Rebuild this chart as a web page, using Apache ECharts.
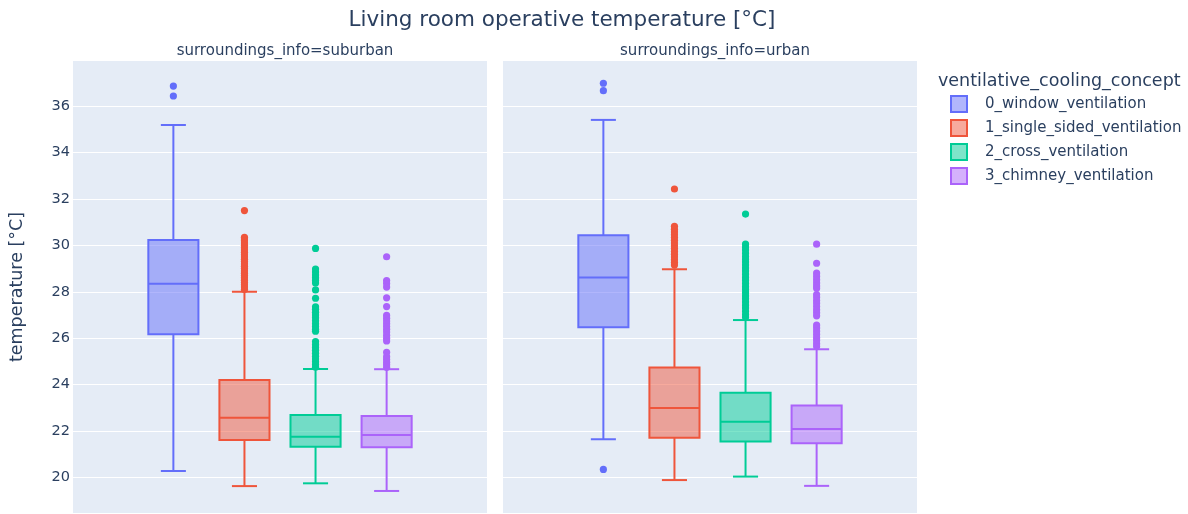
<!DOCTYPE html>
<html>
<head>
<meta charset="utf-8">
<script src="https://cdn.jsdelivr.net/npm/echarts@6/dist/echarts.min.js"></script>
<style>
  html, body { margin: 0; padding: 0; background: #fff; }
  #chart { width: 1188px; height: 514px; }
</style>
</head>
<body>
<div id="chart"></div>
<script>
// legend / colour order
const concepts = ['0_window_ventilation', '1_single_sided_ventilation', '2_cross_ventilation', '3_chimney_ventilation']
const colors = ['#636efa', '#ef553b', '#00cc96', '#ab63fa']
const fills = ['rgba(99,110,250,0.5)', 'rgba(239,85,59,0.5)', 'rgba(0,204,150,0.5)', 'rgba(171,99,250,0.5)']
const panels = ['surroundings_info=suburban', 'surroundings_info=urban']
const yTicks = [20, 22, 24, 26, 28, 30, 32, 34, 36]

// [lower whisker, q1, median, q3, upper whisker]
const suburbanBox = [
  [20.27, 26.17, 28.34, 30.23, 35.19],
  [19.62, 21.61, 22.57, 24.20, 28.00],
  [19.74, 21.32, 21.75, 22.69, 24.67],
  [19.41, 21.29, 21.82, 22.64, 24.66]
]
const urbanBox = [
  [21.64, 26.47, 28.62, 30.44, 35.41],
  [19.88, 21.71, 22.99, 24.73, 28.97],
  [20.03, 21.54, 22.40, 23.65, 26.78],
  [19.63, 21.47, 22.08, 23.09, 25.52]
]

const suburbanOutliers = [
  [36.87, 36.44],
  [31.50, 30.35, 30.28, 30.2, 30.1, 30.0, 29.9, 29.8, 29.7, 29.6, 29.5, 29.4, 29.3, 29.2, 29.1, 29.0,
    28.9, 28.8, 28.7, 28.6, 28.5, 28.4, 28.3, 28.2, 28.1],
  [29.87, 28.98, 28.85, 28.72, 28.6, 28.48, 28.38, 28.08, 27.72, 27.35, 27.25, 27.12, 27.0, 26.88,
    26.75, 26.62, 26.5, 26.38, 26.3, 25.85, 25.72, 25.6, 25.48, 25.35, 25.22, 25.1, 24.98, 24.86, 24.75],
  [29.51, 28.48, 28.36, 28.2, 27.74, 27.36, 26.98, 26.86, 26.74, 26.62, 26.5, 26.38, 26.26, 26.12,
    26.0, 25.88, 25.39, 25.2, 25.08, 24.96, 24.85, 24.74]
]
const urbanOutliers = [
  [36.99, 36.67, 20.34],
  [32.43, 30.82, 30.7, 30.58, 30.46, 30.34, 30.22, 30.1, 29.98, 29.86, 29.74, 29.62, 29.5, 29.38,
    29.26, 29.15],
  [31.35, 30.05, 29.92, 29.8, 29.66, 29.52, 29.4, 29.28, 29.15, 29.02, 28.9, 28.76, 28.62, 28.5,
    28.36, 28.22, 28.1, 27.96, 27.82, 27.7, 27.56, 27.42, 27.3, 27.16, 27.02, 26.9],
  [30.05, 29.23, 28.8, 28.66, 28.52, 28.38, 28.25, 28.15, 27.88, 27.76, 27.62, 27.5, 27.36, 27.22,
    27.1, 26.96, 26.56, 26.44, 26.3, 26.16, 26.02, 25.9, 25.76, 25.64]
]

const boxData = [suburbanBox, urbanBox]
const outlierData = [suburbanOutliers, urbanOutliers]

const TXT = '#2a3f5f'
const FONT = 'DejaVu Sans'
const SLOT = 0.1717   // share of the band between neighbouring boxes
const BOXW = 0.121    // box width as share of the band

// centre x of box idx inside the category band
const boxCenter = (api, idx) => {
  const band = api.size([1, 0])[0]
  return { cx: api.coord([0, 0])[0] + (idx - 1.5) * band * SLOT, half: band * BOXW / 2 }
}

const boxRenderer = (idx) => (params, api) => {
  const { cx, half } = boxCenter(api, idx)
  const y = (k) => api.coord([0, api.value(k)])[1]
  const lo = y(1), q1 = y(2), med = y(3), q3 = y(4), hi = y(5)
  const cap = half / 2
  const line = { stroke: colors[idx], lineWidth: 2 }
  return {
    type: 'group',
    children: [
      { type: 'rect', shape: { x: cx - half, y: q3, width: half * 2, height: q1 - q3 },
        style: { fill: fills[idx], stroke: colors[idx], lineWidth: 2 } },
      { type: 'line', shape: { x1: cx - half, y1: med, x2: cx + half, y2: med }, style: line },
      { type: 'line', shape: { x1: cx, y1: q3, x2: cx, y2: hi }, style: line },
      { type: 'line', shape: { x1: cx, y1: q1, x2: cx, y2: lo }, style: line },
      { type: 'line', shape: { x1: cx - cap, y1: hi, x2: cx + cap, y2: hi }, style: line },
      { type: 'line', shape: { x1: cx - cap, y1: lo, x2: cx + cap, y2: lo }, style: line }
    ]
  }
}

const pointRenderer = (idx) => (params, api) => {
  const { cx } = boxCenter(api, idx)
  return {
    type: 'circle',
    shape: { cx: cx, cy: api.coord([0, api.value(1)])[1], r: 3.6 },
    style: { fill: colors[idx] }
  }
}

const grids = [
  { left: 73, top: 61, width: 414, height: 452 },
  { left: 503, top: 61, width: 414, height: 452 }
].map((g) => ({ ...g, show: true, backgroundColor: '#E5ECF6', borderWidth: 0 }))

const xAxes = [0, 1].map((i) => ({
  type: 'category', gridIndex: i, data: [''],
  axisLine: { show: false }, axisTick: { show: false }, axisLabel: { show: false }, splitLine: { show: false }
}))

const yAxes = [0, 1].map((i) => ({
  type: 'value', gridIndex: i, min: 18.46, max: 37.95,
  name: i === 0 ? 'temperature [°C]' : '',
  nameLocation: 'middle', nameGap: 47,
  nameTextStyle: { color: TXT, fontSize: 17.5, fontFamily: FONT },
  axisLine: { show: false },
  axisTick: { show: false, customValues: yTicks },
  axisLabel: { show: i === 0, customValues: yTicks, color: TXT, fontSize: 14.5, fontFamily: FONT, margin: 3 },
  splitLine: { show: true, lineStyle: { color: '#fff', width: 1 } }
}))

const series = []
panels.forEach((p, pi) => {
  concepts.forEach((name, ci) => {
    series.push({
      name: name, type: 'custom', xAxisIndex: pi, yAxisIndex: pi,
      renderItem: boxRenderer(ci),
      encode: { x: 0, y: [1, 2, 3, 4, 5] },
      data: [[0, ...boxData[pi][ci]]]
    })
    series.push({
      name: name, type: 'custom', xAxisIndex: pi, yAxisIndex: pi,
      renderItem: pointRenderer(ci),
      encode: { x: 0, y: 1 },
      data: outlierData[pi][ci].map((v) => [0, v])
    })
  })
})

const chart = echarts.init(document.getElementById('chart'), null, { renderer: 'canvas' })
chart.setOption({
  animation: false,
  backgroundColor: '#fff',
  textStyle: { fontFamily: FONT },
  title: [
    { text: 'Living room operative temperature [°C]', left: 557, top: 4, textAlign: 'center',
      textStyle: { color: TXT, fontSize: 21.5, fontWeight: 'normal', fontFamily: FONT } },
    { text: panels[0], left: 280, top: 39, textAlign: 'center',
      textStyle: { color: TXT, fontSize: 15, fontWeight: 'normal', fontFamily: FONT } },
    { text: panels[1], left: 710, top: 39, textAlign: 'center',
      textStyle: { color: TXT, fontSize: 15, fontWeight: 'normal', fontFamily: FONT } },
    { text: 'ventilative_cooling_concept', left: 933, top: 67,
      textStyle: { color: TXT, fontSize: 17.5, fontWeight: 'normal', fontFamily: FONT } }
  ],
  legend: {
    orient: 'vertical', left: 945, top: 90, padding: 5,
    itemWidth: 16, itemHeight: 16, itemGap: 6,
    textStyle: { color: TXT, fontSize: 15, fontFamily: FONT, padding: [0, 0, 0, 13] },
    data: concepts.map((n, i) => ({
      name: n, icon: 'rect',
      itemStyle: { color: fills[i], borderColor: colors[i], borderWidth: 2 }
    }))
  },
  grid: grids,
  xAxis: xAxes,
  yAxis: yAxes,
  series: series
})
</script>
</body>
</html>
